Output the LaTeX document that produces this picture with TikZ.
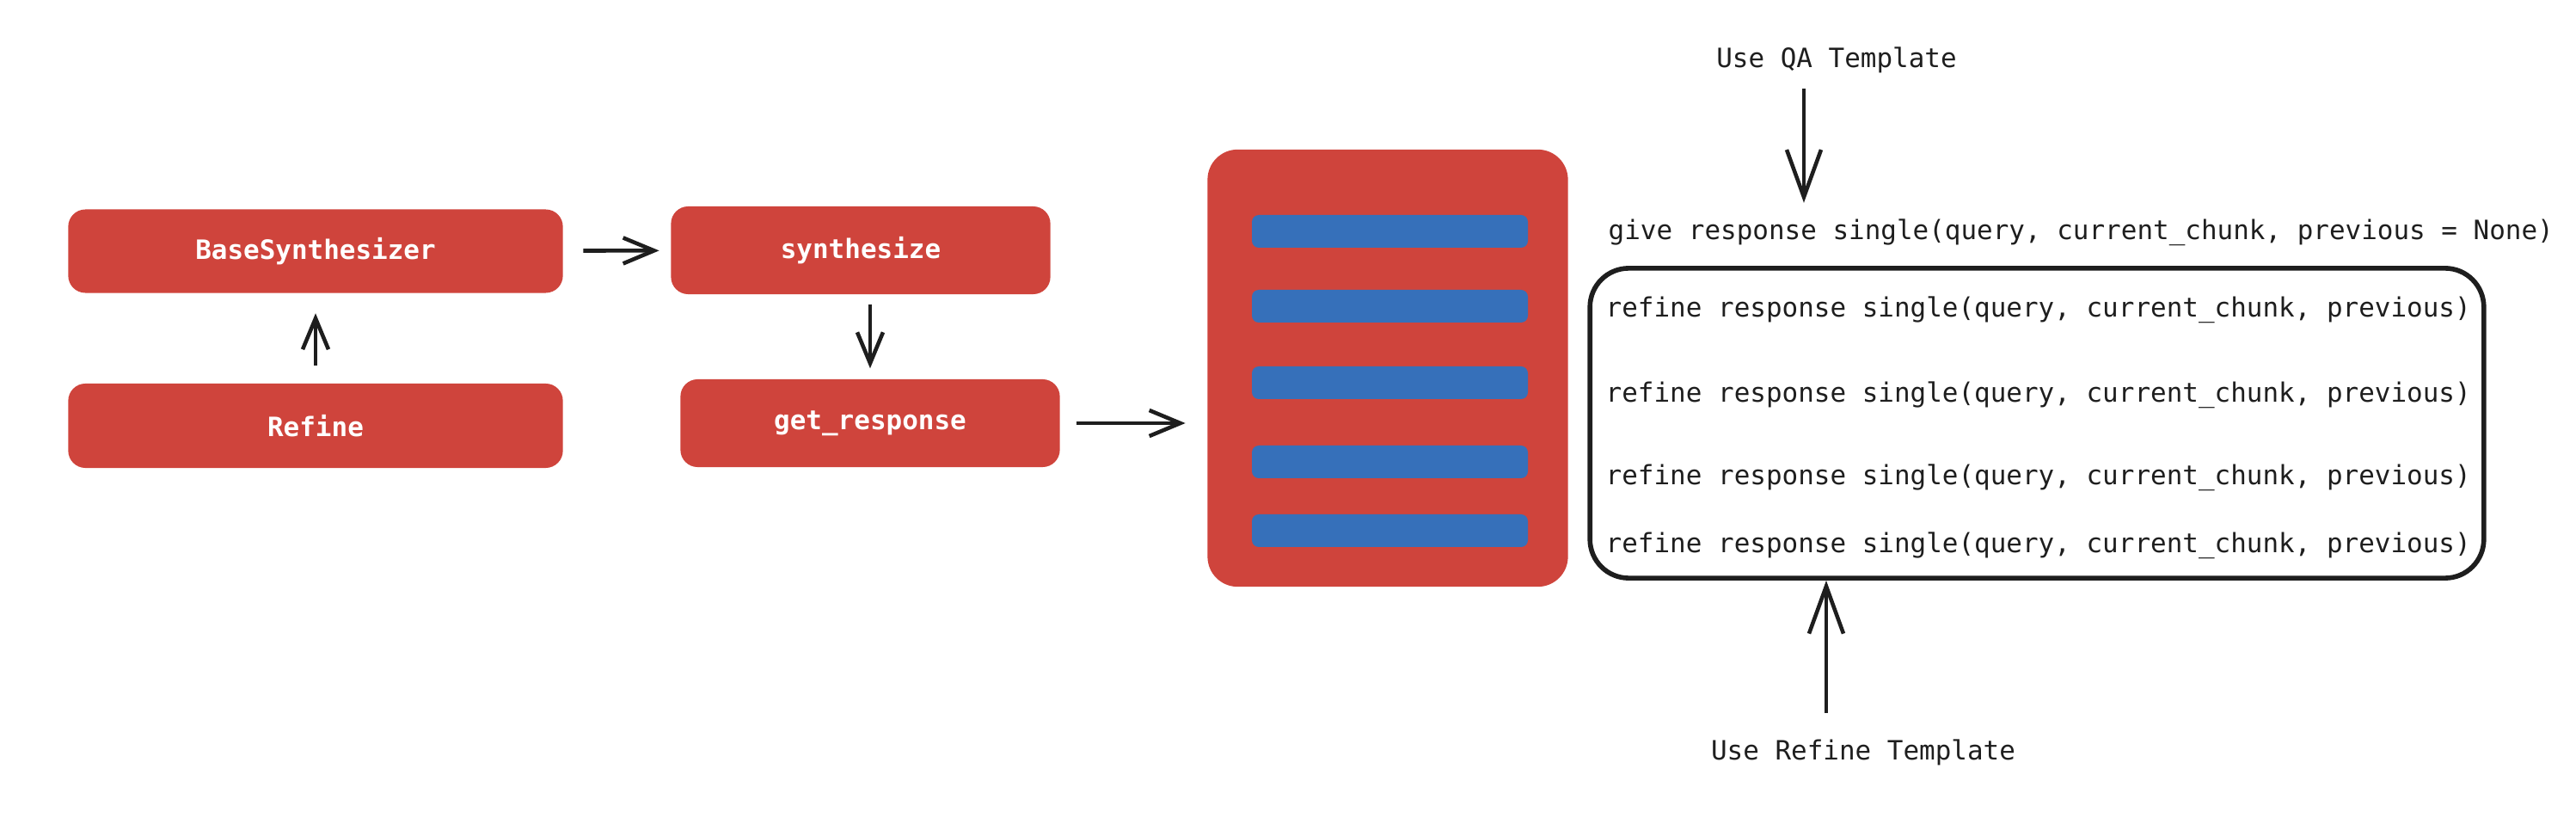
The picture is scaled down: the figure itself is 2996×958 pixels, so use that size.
\documentclass[tikz,border=0pt]{standalone}
\usepackage{fontspec}
\setmonofont{DejaVu Sans Mono}
\usepackage{tikz}
\usetikzlibrary{arrows.meta}

\definecolor{boxred}{RGB}{207,68,60}
\definecolor{barblue}{RGB}{54,112,186}
\definecolor{ink}{RGB}{30,30,30}

\tikzset{
  redbox/.style={fill=boxred, rounded corners=0.2cm, text=white,
    font=\ttfamily\bfseries\fontsize{8.8}{10}\selectfont},
  code/.style={font=\ttfamily\fontsize{8.8}{10}\selectfont, text=ink, inner sep=0pt},
  flow/.style={->, ink, line width=1.3pt, >={Straight Barb[length=0.36cm,width=0.3cm]}},
  tpl/.style={->, ink, line width=1.3pt, >={Straight Barb[length=0.55cm,width=0.4cm]}}
}

\begin{document}
\begin{tikzpicture}[x=0.01cm, y=-0.01cm]
\useasboundingbox (0,0) rectangle (2996,958);

% left column
\node[redbox, minimum width=5.75cm, minimum height=0.97cm] (base) at (367,292) {BaseSynthesizer};
\node[redbox, minimum width=5.75cm, minimum height=0.98cm] (refine) at (367,495) {Refine};
\draw[flow, shorten <=0.2cm, shorten >=0.23cm] (refine) -- (base);

% middle column
\node[redbox, minimum width=4.41cm, minimum height=1.02cm] (synth) at (1001,291) {synthesize};
\node[redbox, minimum width=4.41cm, minimum height=1.02cm] (getresp) at (1012,492) {get\_response};
\draw[flow, shorten <=0.23cm, shorten >=0.13cm] (base) -- (synth);
\draw[flow, shorten <=0.11cm, shorten >=0.12cm] (synth.south -| getresp.north) -- (getresp.north);

% document with chunks
\node[fill=boxred, rounded corners=0.35cm, minimum width=4.19cm, minimum height=5.08cm] (doc) at (1614,428) {};
\foreach \y in {269,356,445,537,617}
  \fill[barblue, rounded corners=0.08cm] (1456,\y-19) rectangle (1777,\y+19);
\draw[flow, shorten <=0.19cm, shorten >=0.25cm] (getresp.east) -- (getresp.east -| doc.west);

% calls
\node[code] (qa) at (2136,70) {Use QA Template};
\node[code, anchor=west] (give) at (1870,270) {give response single(query, current\_chunk, previous = None)};
\draw[tpl, shorten <=0.17cm, shorten >=0.18cm] ([xshift=-0.38cm]qa.south) -- ([xshift=-0.38cm]qa.south |- give.north);

\node[draw=ink, line width=1.6pt, rounded corners=0.45cm, minimum width=10.39cm, minimum height=3.6cm] (chain) at (2369,492) {};
\foreach \y [count=\i] in {360,459,555,634}
  \node[code, anchor=west] (ref\i) at (1867,\y) {refine response single(query, current\_chunk, previous)};

\node[code] (rtpl) at (2167,875) {Use Refine Template};
\draw[tpl, shorten <=0.3cm] ([xshift=-0.43cm]rtpl.north) -- ([xshift=-0.43cm]rtpl.north |- chain.south);
\end{tikzpicture}
\end{document}
